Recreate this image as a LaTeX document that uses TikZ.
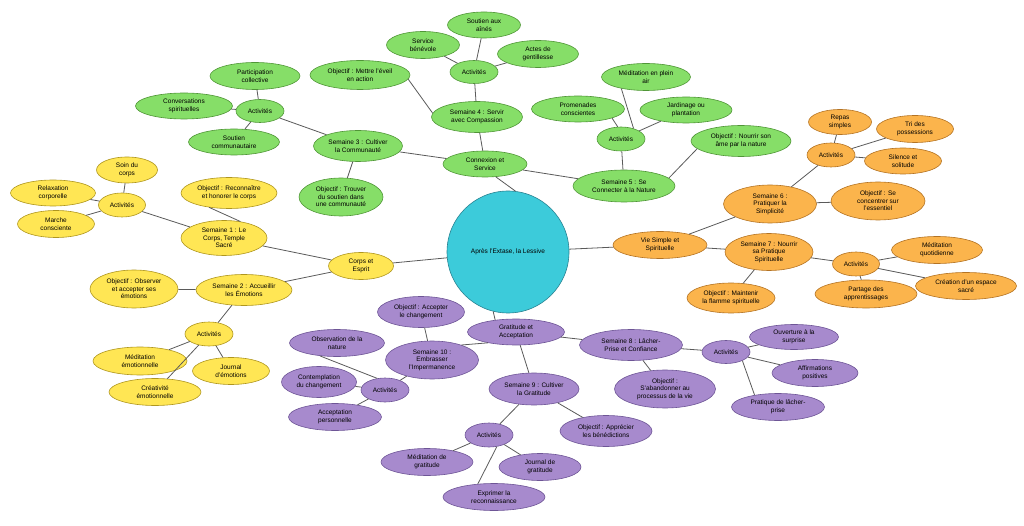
\documentclass[tikz,border=0pt]{standalone}
\usepackage{fontspec}
\setmainfont{Liberation Sans}
\usetikzlibrary{shapes.geometric}

\definecolor{rootfill}{RGB}{60,203,218}
\definecolor{rootline}{RGB}{40,130,145}
\definecolor{vertfill}{RGB}{134,222,104}
\definecolor{vertline}{RGB}{80,150,55}
\definecolor{jaunefill}{RGB}{255,230,84}
\definecolor{jauneline}{RGB}{175,150,30}
\definecolor{amrefill}{RGB}{251,180,76}
\definecolor{amreline}{RGB}{180,115,35}
\definecolor{lilasfill}{RGB}{167,138,205}
\definecolor{lilasline}{RGB}{110,85,150}
\definecolor{lien}{RGB}{90,90,90}

\tikzset{
  bulle/.style={ellipse, inner sep=0pt, align=center, line width=0.6pt,
    font=\fontsize{6.5}{7.5}\selectfont},
  sz/.style 2 args={minimum width=#1, minimum height=#2},
  feuille/.style={bulle, fill=vertfill, draw=vertline},
  soleil/.style={bulle, fill=jaunefill, draw=jauneline},
  ambre/.style={bulle, fill=amrefill, draw=amreline},
  lilas/.style={bulle, fill=lilasfill, draw=lilasline},
  lien/.style={draw=lien, line width=0.8pt}
}

\begin{document}
\begin{tikzpicture}[x=1pt, y=-1pt]
\useasboundingbox (0,0) rectangle (1024,526);

\node[circle, fill=rootfill, draw=rootline, line width=0.6pt, minimum size=122,
  font=\fontsize{6.5}{7.5}\selectfont] (root) at (508,252) {Après l'Extase, la Lessive};

% Corps et Esprit
\node[soleil, sz={65}{27}]  (corps)    at (361,266) {Corps et\\Esprit};
\node[soleil, sz={86}{35}]  (s1)       at (224,238) {Semaine 1 : Le\\Corps, Temple\\Sacré};
\node[soleil, sz={96}{31}]  (obj1)     at (229,193) {Objectif : Reconnaître\\et honorer le corps};
\node[soleil, sz={47}{24}]  (act1)     at (122,205) {Activités};
\node[soleil, sz={61}{26}]  (soin)     at (127,170) {Soin du\\corps};
\node[soleil, sz={85}{26}]  (relax)    at (53,193)  {Relaxation\\corporelle};
\node[soleil, sz={77}{27}]  (marche)   at (56,224)  {Marche\\consciente};
\node[soleil, sz={96}{31}]  (s2)       at (244,290) {Semaine 2 : Accueillir\\les Émotions};
\node[soleil, sz={88}{38}]  (obj2)     at (134,289) {Objectif : Observer\\et accepter ses\\émotions};
\node[soleil, sz={48}{24}]  (act2)     at (209,334) {Activités};
\node[soleil, sz={94}{28}]  (medemo)   at (140,361) {Méditation\\émotionnelle};
\node[soleil, sz={77}{27}]  (journemo) at (231,371) {Journal\\d'émotions};
\node[soleil, sz={92}{27}]  (crea)     at (155,392) {Créativité\\émotionnelle};

% Connexion et Service
\node[feuille, sz={84}{26}]  (conn)     at (485,164) {Connexion et\\Service};
\node[feuille, sz={89}{31}]  (s3)       at (358,146) {Semaine 3 : Cultiver\\la Communauté};
\node[feuille, sz={84}{38}]  (obj3)     at (341,197) {Objectif : Trouver\\du soutien dans\\une communauté};
\node[feuille, sz={48}{23}]  (act3)     at (260,111) {Activités};
\node[feuille, sz={90}{27}]  (particip) at (255,76)  {Participation\\collective};
\node[feuille, sz={97}{26}]  (convers)  at (184,106) {Conversations\\spirituelles};
\node[feuille, sz={91}{26}]  (soutcom)  at (234,142) {Soutien\\communautaire};
\node[feuille, sz={91}{31}]  (s4)       at (477,117) {Semaine 4 : Servir\\avec Compassion};
\node[feuille, sz={100}{29}] (obj4)     at (360,75)  {Objectif : Mettre l'éveil\\en action};
\node[feuille, sz={48}{23}]  (act4)     at (474,72)  {Activités};
\node[feuille, sz={73}{27}]  (benev)    at (423,45)  {Service\\bénévole};
\node[feuille, sz={73}{26}]  (aines)    at (484,25)  {Soutien aux\\aînés};
\node[feuille, sz={81}{27}]  (actes)    at (538,54)  {Actes de\\gentillesse};
\node[feuille, sz={102}{32}] (s5)       at (624,186) {Semaine 5 : Se\\Connecter à la Nature};
\node[feuille, sz={100}{31}] (obj5)     at (741,141) {Objectif : Nourrir son\\âme par la nature};
\node[feuille, sz={48}{24}]  (act5)     at (621,139) {Activités};
\node[feuille, sz={89}{27}]  (pleinair) at (646,77)  {Méditation en plein\\air};
\node[feuille, sz={93}{26}]  (promen)   at (578,109) {Promenades\\conscientes};
\node[feuille, sz={92}{26}]  (jardin)   at (686,110) {Jardinage ou\\plantation};

% Vie Simple et Spirituelle
\node[ambre, sz={94}{27}]  (vie)     at (660,245) {Vie Simple et\\Spirituelle};
\node[ambre, sz={93}{38}]  (s6)      at (770,204) {Semaine 6 :\\Pratiquer la\\Simplicité};
\node[ambre, sz={94}{38}]  (obj6)    at (878,201) {Objectif : Se\\concentrer sur\\l'essentiel};
\node[ambre, sz={48}{24}]  (act6)    at (831,155) {Activités};
\node[ambre, sz={63}{25}]  (repas)   at (840,122) {Repas\\simples};
\node[ambre, sz={77}{27}]  (tri)     at (915,129) {Tri des\\possessions};
\node[ambre, sz={77}{26}]  (silence) at (903,161) {Silence et\\solitude};
\node[ambre, sz={88}{37}]  (s7)      at (769,252) {Semaine 7 : Nourrir\\sa Pratique\\Spirituelle};
\node[ambre, sz={88}{30}]  (obj7)    at (731,298) {Objectif : Maintenir\\la flamme spirituelle};
\node[ambre, sz={47}{24}]  (act7)    at (856,264) {Activités};
\node[ambre, sz={91}{27}]  (medquot) at (937,250) {Méditation\\quotidienne};
\node[ambre, sz={101}{27}] (espace)  at (966,286) {Création d'un espace\\sacré};
\node[ambre, sz={102}{28}] (partage) at (866,294) {Partage des\\apprentissages};

% Gratitude et Acceptation
\node[lilas, sz={97}{26}]  (grat)     at (516,332) {Gratitude et\\Acceptation};
\node[lilas, sz={103}{31}] (s8)       at (631,345) {Semaine 8 : Lâcher-\\Prise et Confiance};
\node[lilas, sz={101}{38}] (obj8)     at (665,389) {Objectif :\\S'abandonner au\\processus de la vie};
\node[lilas, sz={48}{23}]  (act8)     at (726,352) {Activités};
\node[lilas, sz={89}{25}]  (ouvert)   at (794,337) {Ouverture à la\\surprise};
\node[lilas, sz={86}{27}]  (affirm)   at (815,373) {Affirmations\\positives};
\node[lilas, sz={93}{27}]  (pratique) at (778,407) {Pratique de lâcher-\\prise};
\node[lilas, sz={90}{32}]  (s9)       at (534,389) {Semaine 9 : Cultiver\\la Gratitude};
\node[lilas, sz={92}{31}]  (obj9)     at (606,431) {Objectif : Apprécier\\les bénédictions};
\node[lilas, sz={48}{24}]  (act9)     at (489,435) {Activités};
\node[lilas, sz={92}{27}]  (medgrat)  at (427,462) {Méditation de\\gratitude};
\node[lilas, sz={82}{27}]  (jourgrat) at (540,467) {Journal de\\gratitude};
\node[lilas, sz={102}{27}] (exprim)   at (494,497) {Exprimer la\\reconnaissance};
\node[lilas, sz={93}{38}]  (s10)      at (432,360) {Semaine 10 :\\Embrasser\\l'Impermanence};
\node[lilas, sz={87}{31}]  (obj10)    at (421,312) {Objectif : Accepter\\le changement};
\node[lilas, sz={48}{24}]  (act10)    at (385,390) {Activités};
\node[lilas, sz={95}{27}]  (observ)   at (337,343) {Observation de la\\nature};
\node[lilas, sz={75}{31}]  (contempl) at (319,382) {Contemplation\\du changement};
\node[lilas, sz={93}{27}]  (accept)   at (335,417) {Acceptation\\personnelle};

% liens
\draw[lien] (root) -- (corps);
\draw[lien] (root.83) -- (conn.-50);
\draw[lien] (root) -- (vie);
\draw[lien] (root.256) -- (grat.150);

\draw[lien] (corps) -- (s1);
\draw[lien] (corps) -- (s2);
\draw[lien] (s1.45) -- (obj1.216);
\draw[lien] (s1) -- (act1);
\draw[lien] (act1) -- (soin);
\draw[lien] (act1) -- (relax);
\draw[lien] (act1) -- (marche);
\draw[lien] (s2) -- (obj2);
\draw[lien] (s2) -- (act2);
\draw[lien] (act2) -- (medemo);
\draw[lien] (act2) -- (journemo);
\draw[lien] (act2) -- (crea);

\draw[lien] (conn) -- (s3);
\draw[lien] (conn) -- (s4);
\draw[lien] (conn) -- (s5);
\draw[lien] (s3) -- (obj3);
\draw[lien] (s3) -- (act3);
\draw[lien] (act3) -- (particip);
\draw[lien] (act3) -- (convers);
\draw[lien] (act3) -- (soutcom);
\draw[lien] (s4.175) -- (obj4.-5);
\draw[lien] (s4) -- (act4);
\draw[lien] (act4) -- (benev);
\draw[lien] (act4) -- (aines);
\draw[lien] (act4) -- (actes);
\draw[lien] (s5.10) -- (obj5.190);
\draw[lien] (s5) -- (act5);
\draw[lien] (act5.40) -- (pleinair.205);
\draw[lien] (act5.105) -- (promen.-15);
\draw[lien] (act5) -- (jardin);

\draw[lien] (vie) -- (s6);
\draw[lien] (vie) -- (s7);
\draw[lien] (s6) -- (obj6);
\draw[lien] (s6) -- (act6);
\draw[lien] (act6) -- (repas);
\draw[lien] (act6) -- (tri);
\draw[lien] (act6) -- (silence);
\draw[lien] (s7) -- (obj7);
\draw[lien] (s7) -- (act7);
\draw[lien] (act7) -- (medquot);
\draw[lien] (act7) -- (espace);
\draw[lien] (act7) -- (partage);

\draw[lien] (grat) -- (s8);
\draw[lien] (grat) -- (s9);
\draw[lien] (grat.201) -- (s10.27);
\draw[lien] (s8) -- (obj8);
\draw[lien] (s8) -- (act8);
\draw[lien] (act8) -- (ouvert);
\draw[lien] (act8) -- (affirm);
\draw[lien] (act8.-28) -- (pratique.153);
\draw[lien] (s9) -- (obj9);
\draw[lien] (s9) -- (act9);
\draw[lien] (act9) -- (medgrat);
\draw[lien] (act9) -- (jourgrat);
\draw[lien] (act9.-56) -- (exprim.141);
\draw[lien] (s10) -- (obj10);
\draw[lien] (s10) -- (act10);
\draw[lien] (act10.124) -- (observ.217);
\draw[lien] (act10) -- (contempl);
\draw[lien] (act10) -- (accept);

\end{tikzpicture}
\end{document}
